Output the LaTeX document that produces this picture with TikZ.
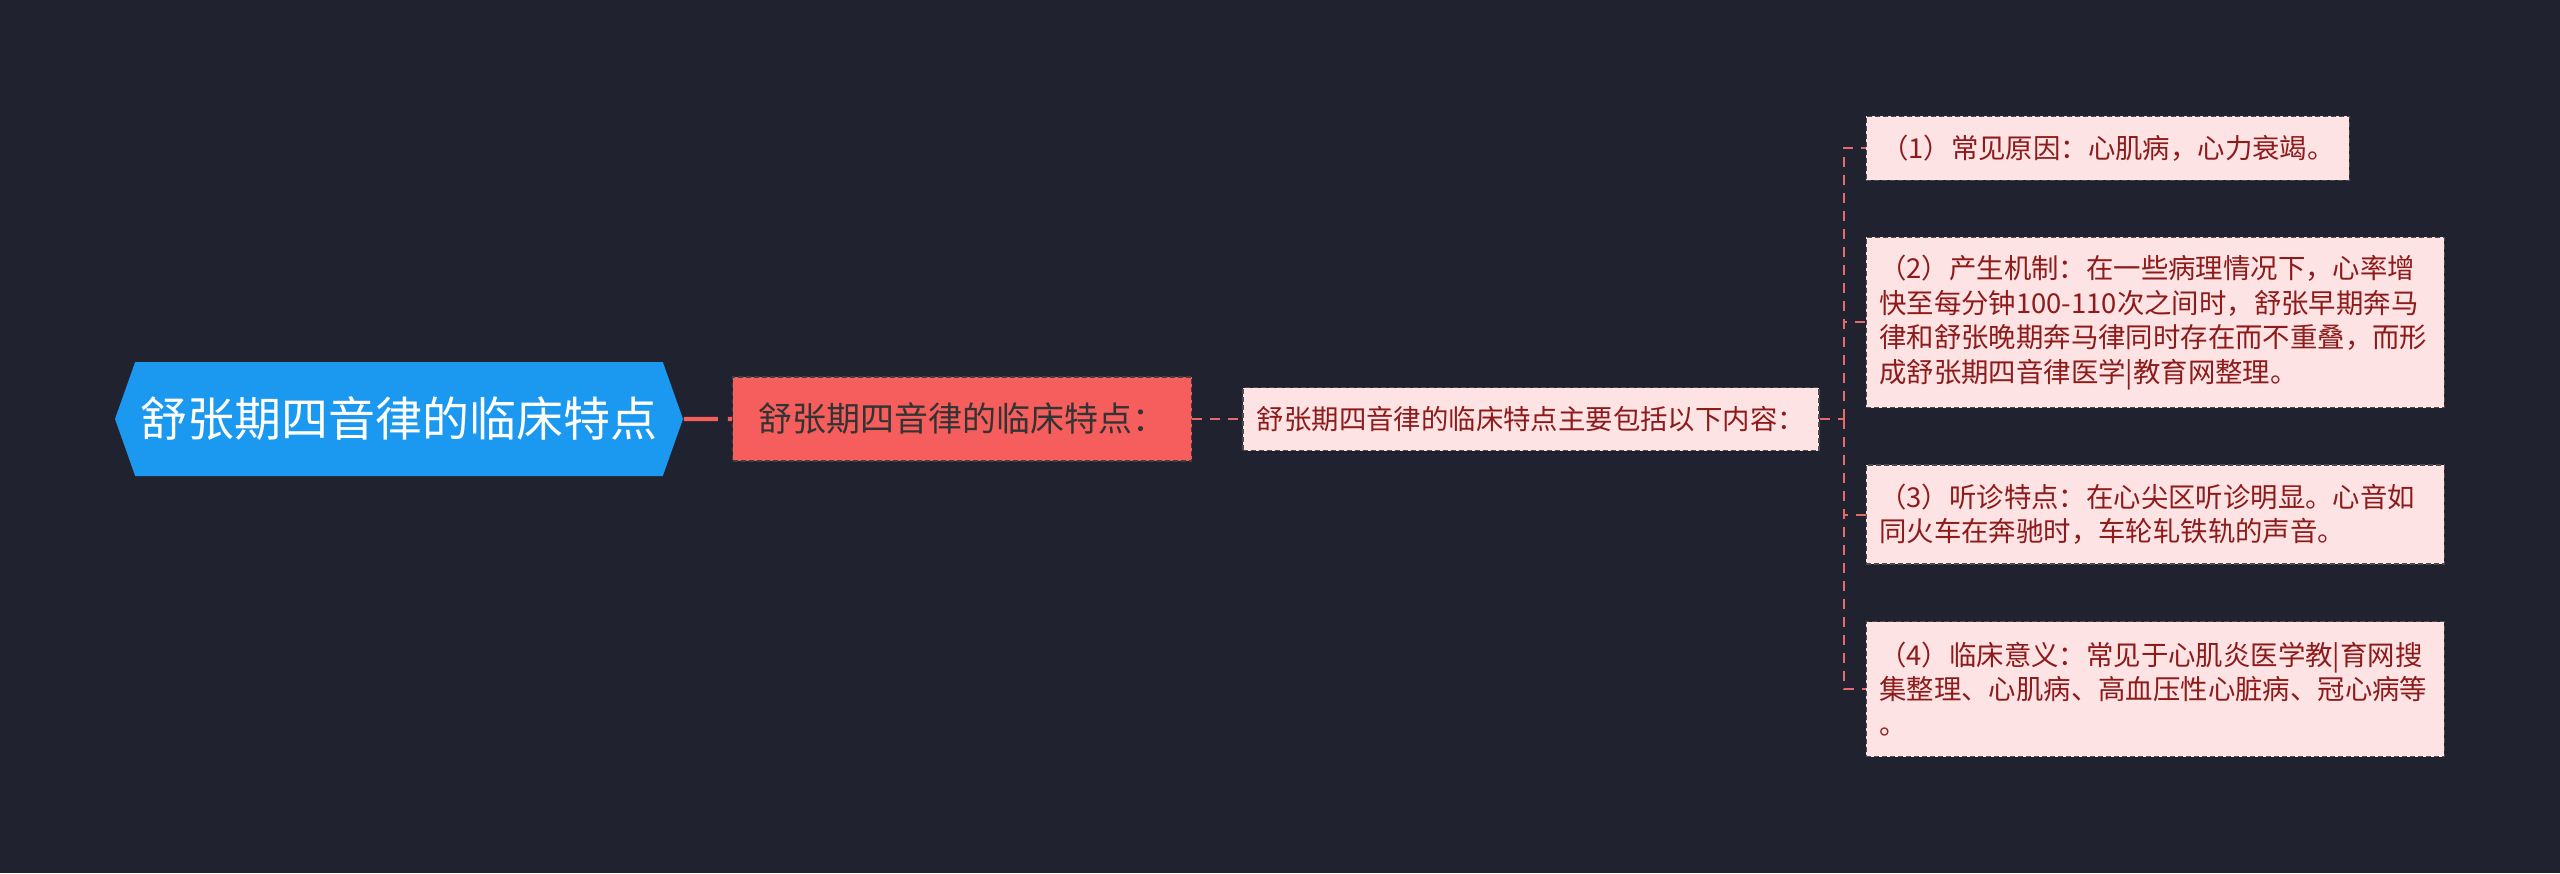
\documentclass[tikz,border=0pt]{standalone}
\usepackage{fontspec}
\setmainfont{Noto Sans CJK SC}
\usetikzlibrary{positioning,shapes.symbols}
\definecolor{bgnavy}{HTML}{20232F}
\definecolor{rootblue}{HTML}{1B98EF}
\definecolor{subred}{HTML}{F65E5E}
\definecolor{leafpink}{HTML}{FDE3E3}
\definecolor{leaftext}{HTML}{8E1B1B}
\definecolor{linkred}{HTML}{E66A6A}

\begin{document}
\begin{tikzpicture}[thick,
    root/.style = {signal, signal to=west and east, signal pointer angle=141, fill=rootblue, text=white, minimum width=284pt, minimum height=57pt, inner sep=0pt, font=\fontsize{23.5pt}{28pt}\selectfont},
    sub/.style = {draw=black!75, fill=subred, dash pattern=on 2.5pt off 1.5pt, line width=0.7pt, text=black!80, minimum width=229.5pt, minimum height=42pt, inner sep=0pt, font=\fontsize{17pt}{20pt}\selectfont},
    main/.style = {draw=black!70, fill=leafpink, dash pattern=on 2.5pt off 1.5pt, line width=0.7pt, text=leaftext, inner sep=0pt, font=\fontsize{13.7pt}{17.2pt}\selectfont},
    leaf/.style = {main, inner xsep=6.5pt, text width=276pt, align=left},
    link/.style = {draw=linkred, line width=1pt, dash pattern=on 5pt off 4pt}
    ]
\fill[bgnavy] (-199.5pt,-227pt) rectangle (1080.5pt,209.5pt);
\useasboundingbox (-199.5pt,-227pt) rectangle (1080.5pt,209.5pt);

\node[root] (0) at (0,0) {舒张期四音律的临床特点};
\node[sub] (1) [right=24pt of 0] {舒张期四音律的临床特点：};
\node[main, minimum width=288pt, minimum height=31.5pt] (2) [right=25pt of 1] {舒张期四音律的临床特点主要包括以下内容：};
\coordinate (b) at ([xshift=12pt]2.east);

\node[main, minimum width=241.5pt, minimum height=32pt] (3) [right=11pt of b, yshift=135.25pt] {（1）常见原因：心肌病，心力衰竭。};
\node[leaf, minimum height=85pt] (4) [right=11pt of b, yshift=48.25pt] {（2）产生机制：在一些病理情况下，心率增\\快至每分钟100-110次之间时，舒张早期奔马\\律和舒张晚期奔马律同时存在而不重叠，而形\\成舒张期四音律医学|教育网整理。};
\node[leaf, minimum height=49.5pt] (5) [right=11pt of b, yshift=-47.75pt] {（3）听诊特点：在心尖区听诊明显。心音如\\同火车在奔驰时，车轮轧铁轨的声音。};
\node[leaf, minimum height=67.5pt] (6) [right=11pt of b, yshift=-135pt] {（4）临床意义：常见于心肌炎医学教|育网搜\\集整理、心肌病、高血压性心脏病、冠心病等\\。};

\draw[link, line width=2.2pt, draw=subred, dash pattern=on 17pt off 5pt] (0) -- (1);
\draw[link] (1) -- (2);
\draw[link] (2) -- (b);
\draw[link] (b) |- (3);
\draw[link] (b) |- (4);
\draw[link] (b) |- (5);
\draw[link] (b) |- (6);

\end{tikzpicture}
\end{document}
